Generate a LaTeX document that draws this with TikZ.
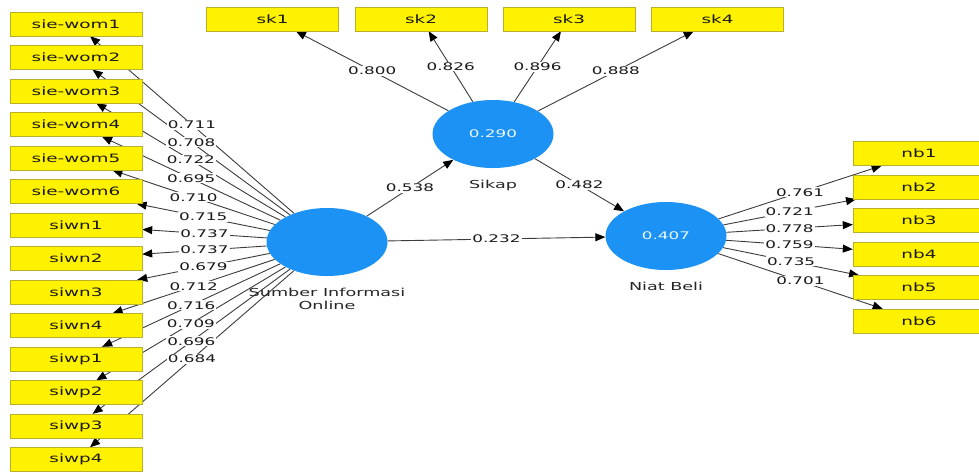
\documentclass[tikz,border=0pt]{standalone}
\usepackage{fontspec}
\setmainfont[FakeStretch=1.6]{DejaVu Sans}
\usetikzlibrary{positioning,shapes.geometric,arrows.meta,backgrounds}

\definecolor{lvblue}{RGB}{28,146,245}
\definecolor{boxline}{RGB}{185,175,40}
\definecolor{linegray}{RGB}{60,60,60}

\tikzset{
  ind/.style={rectangle, fill=yellow, draw=boxline, minimum width=132pt, minimum height=24pt,
    inner sep=0pt, text=black!90, font=\fontsize{11.5}{13}\selectfont},
  lv/.style={ellipse, fill=lvblue, minimum width=121pt, minimum height=68pt, inner sep=0pt,
    text=cyan!8, font=\fontsize{10.5}{12}\selectfont},
  lvname/.style={inner sep=0pt, align=center, text=black!85, font=\fontsize{11}{13}\selectfont},
  ol/.style={draw=linegray, line width=.9pt, -{Triangle[length=10pt,width=8pt,color=black]}},
  lbl/.style={fill=white, inner sep=1pt, text=black!90, font=\fontsize{10.5}{12}\selectfont},
}

\begin{document}
\begin{tikzpicture}[x=1pt,y=-1pt]
  \useasboundingbox (0,0) rectangle (979,475);
  % latent variables
  \node[lv] (sio) at (327,242) {};
  \node[lv] (sik) at (493,134) {0.290};
  \node[lv] (niat) at (666,236) {0.407};
  \node[lvname, below=12pt of sio] (sioname) {Sumber Informasi\\Online};
  \node[lvname, below=12pt of sik] (sikname) {Sikap};
  \node[lvname, below=12pt of niat] (niatname) {Niat Beli};
  % indicators
  \node[ind] (wom1) at (76,24) {sie-wom1};
  \node[ind] (wom2) at (76,57.5) {sie-wom2};
  \node[ind] (wom3) at (76,91) {sie-wom3};
  \node[ind] (wom4) at (76,124.5) {sie-wom4};
  \node[ind] (wom5) at (76,158) {sie-wom5};
  \node[ind] (wom6) at (76,191.5) {sie-wom6};
  \node[ind] (siwn1) at (76,225) {siwn1};
  \node[ind] (siwn2) at (76,258.5) {siwn2};
  \node[ind] (siwn3) at (76,292) {siwn3};
  \node[ind] (siwn4) at (76,325.5) {siwn4};
  \node[ind] (siwp1) at (76,359) {siwp1};
  \node[ind] (siwp2) at (76,392.5) {siwp2};
  \node[ind] (siwp3) at (76,426) {siwp3};
  \node[ind] (siwp4) at (76,459.5) {siwp4};
  \node[ind] (sk1) at (272.5,19) {sk1};
  \node[ind] (sk2) at (421,19) {sk2};
  \node[ind] (sk3) at (569,19) {sk3};
  \node[ind] (sk4) at (717.5,19) {sk4};
  \node[ind] (nb1) at (919,153.5) {nb1};
  \node[ind] (nb2) at (919,187) {nb2};
  \node[ind] (nb3) at (919,220.5) {nb3};
  \node[ind] (nb4) at (919,254) {nb4};
  \node[ind] (nb5) at (919,287.5) {nb5};
  \node[ind] (nb6) at (919,321) {nb6};
  % lines under the boxes
  \begin{pgfonlayer}{background}
    \path (sio) edge[ol] (wom1) edge[ol] (wom2) edge[ol] (wom3) edge[ol] (wom4)
      edge[ol] (wom5) edge[ol] (wom6) edge[ol] (siwn1) edge[ol] (siwn2)
      edge[ol] (siwn3) edge[ol] (siwn4) edge[ol] (siwp1) edge[ol] (siwp2)
      edge[ol] (siwp3) edge[ol] (siwp4);
    \path (sik) edge[ol] (sk1) edge[ol] (sk2) edge[ol] (sk3) edge[ol] (sk4);
    \path (niat) edge[ol] (nb1) edge[ol] (nb2) edge[ol] (nb3) edge[ol] (nb4)
      edge[ol] (nb5) edge[ol] (nb6);
    \path (sio) edge[ol] (sik) edge[ol] (niat);
    \path (sik) edge[ol] (niat);
  \end{pgfonlayer}
  % loadings and path coefficients
  \path (sio) edge[draw=none] node[lbl] {0.711} (wom1)
    edge[draw=none] node[lbl] {0.708} (wom2)
    edge[draw=none] node[lbl] {0.722} (wom3)
    edge[draw=none] node[lbl] {0.695} (wom4)
    edge[draw=none] node[lbl] {0.710} (wom5)
    edge[draw=none] node[lbl] {0.715} (wom6)
    edge[draw=none] node[lbl] {0.737} (siwn1)
    edge[draw=none] node[lbl] {0.737} (siwn2)
    edge[draw=none] node[lbl] {0.679} (siwn3)
    edge[draw=none] node[lbl] {0.712} (siwn4)
    edge[draw=none] node[lbl] {0.716} (siwp1)
    edge[draw=none] node[lbl] {0.709} (siwp2)
    edge[draw=none] node[lbl] {0.696} (siwp3)
    edge[draw=none] node[lbl] {0.684} (siwp4);
  \path (sik) edge[draw=none] node[lbl] {0.800} (sk1)
    edge[draw=none] node[lbl] {0.826} (sk2)
    edge[draw=none] node[lbl] {0.896} (sk3)
    edge[draw=none] node[lbl] {0.888} (sk4);
  \path (niat) edge[draw=none] node[lbl] {0.761} (nb1)
    edge[draw=none] node[lbl] {0.721} (nb2)
    edge[draw=none] node[lbl] {0.778} (nb3)
    edge[draw=none] node[lbl] {0.759} (nb4)
    edge[draw=none] node[lbl] {0.735} (nb5)
    edge[draw=none] node[lbl] {0.701} (nb6);
  \path (sio) edge[draw=none] node[lbl] {0.538} (sik)
    edge[draw=none] node[lbl] {0.232} (niat);
  \path (sik) edge[draw=none] node[lbl] {0.482} (niat);
\end{tikzpicture}
\end{document}
